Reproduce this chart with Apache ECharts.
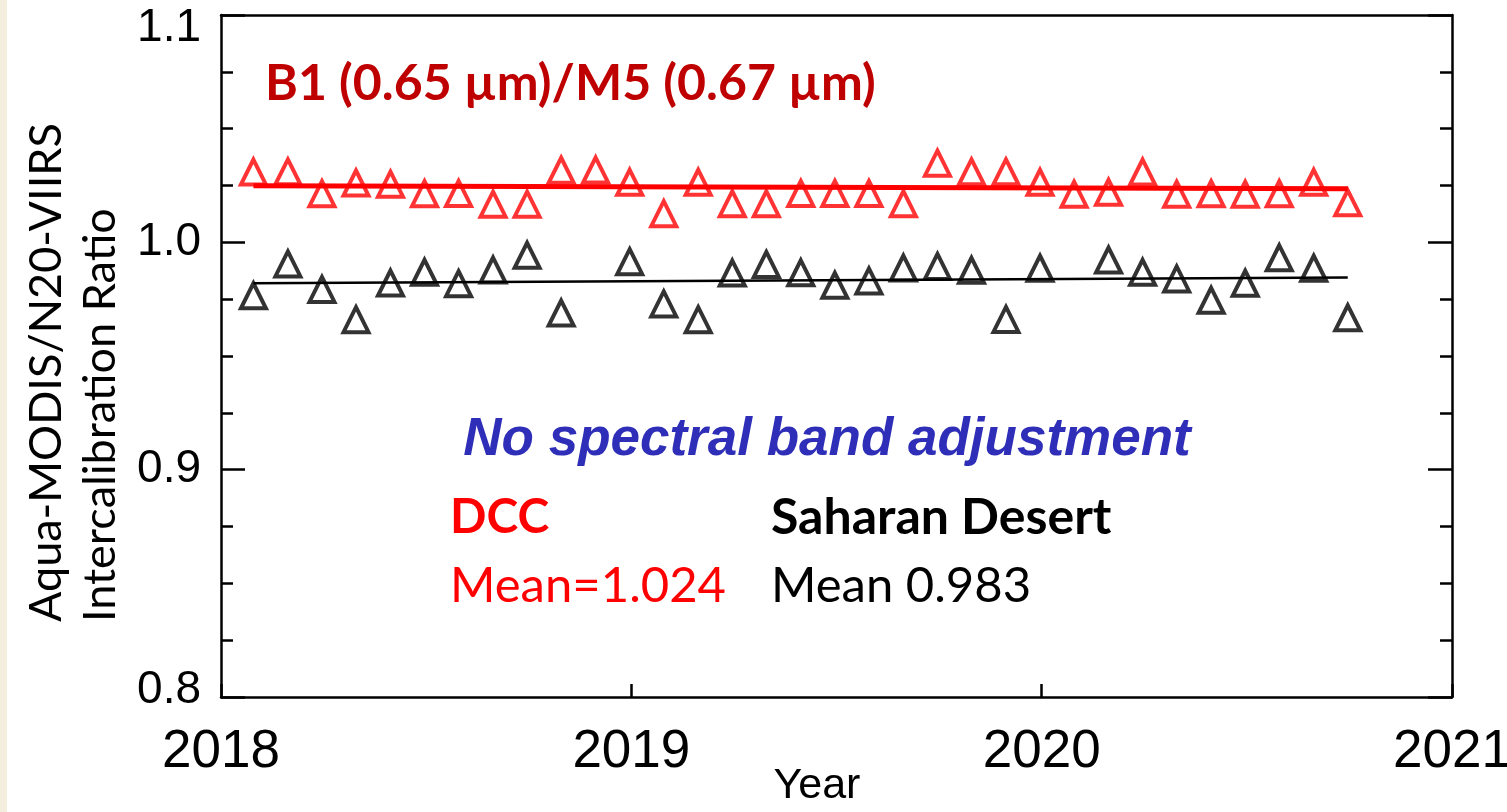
<!DOCTYPE html>
<html>
<head>
<meta charset="utf-8">
<script src="https://cdn.jsdelivr.net/npm/echarts@6/dist/echarts.min.js"></script>
<style>
html,body{margin:0;padding:0;background:#fff;overflow:hidden;}
#chart{width:1507px;height:812px;}
</style>
</head>
<body>
<div id="chart"></div>
<script>
// Decimal-year positions of the monthly samples
const xYears = [2018.079, 2018.163, 2018.246, 2018.329, 2018.413, 2018.496, 2018.579, 2018.663, 2018.746, 2018.829, 2018.913, 2018.996,
                2019.079, 2019.163, 2019.246, 2019.329, 2019.413, 2019.496, 2019.579, 2019.663, 2019.746, 2019.829, 2019.913, 2019.996,
                2020.079, 2020.163, 2020.246, 2020.329, 2020.413, 2020.496, 2020.579, 2020.663, 2020.746];
// DCC ratios (red)
const dccRatio = [1.0309, 1.0310, 1.0214, 1.0261, 1.0256, 1.0214, 1.0215, 1.0168, 1.0168, 1.0317, 1.0318, 1.0264,
                  1.0126, 1.0264, 1.0170, 1.0170, 1.0215, 1.0215, 1.0215, 1.0170, 1.0348, 1.0310, 1.0310, 1.0264,
                  1.0212, 1.0220, 1.0309, 1.0212, 1.0214, 1.0212, 1.0214, 1.0264, 1.0174];
// Saharan Desert ratios (black), null = no sample
const desertRatio = [0.9765, 0.9905, 0.9793, 0.9660, 0.9821, 0.9868, 0.9818, 0.9878, 0.9943, 0.9689, null, 0.9915,
                     0.9729, 0.9660, 0.9865, 0.9903, 0.9866, 0.9811, 0.9830, 0.9887, 0.9894, 0.9877, 0.9661, 0.9886,
                     null, 0.9922, 0.9868, 0.9839, 0.9745, 0.9820, 0.9932, 0.9886, 0.9668];
// Fitted trend line end points
const dccFitX = [2018.079, 2020.746];
const dccFitY = [1.0249, 1.0236];
const desertFitX = [2018.079, 2020.746];
const desertFitY = [0.9820, 0.9845];
// Axis ticks
const xTicks = [2018, 2019, 2020, 2021];
const yTicks = [0.8, 0.9, 1.0, 1.1];

const pairs = (xs, ys) => xs.map((x, i) => [x, ys[i]]).filter(p => p[1] !== null);

const chart = echarts.init(document.getElementById('chart'), null, {renderer: 'canvas'});

const axisLine = {show: true, lineStyle: {color: '#000', width: 2.5}};
const yBase = {
  type: 'value', min: yTicks[0], max: yTicks[yTicks.length - 1], interval: 0.1,
  axisLine: axisLine, splitLine: {show: false},
  axisTick: {show: true, inside: true, length: 24, lineStyle: {color: '#000', width: 2.5}},
  minorTick: {show: true, splitNumber: 4, length: 12, lineStyle: {color: '#000', width: 2.5}},
  minorSplitLine: {show: false}
};
const yLabelFont = {color: '#000', fontFamily: 'Liberation Sans, Arial, sans-serif', fontSize: 46};

chart.setOption({
  backgroundColor: '#ffffff',
  animation: false,
  grid: {left: 221, right: 55, top: 15, bottom: 115, containLabel: false, outerBoundsMode: 'none'},
  xAxis: [
    {type: 'value', min: xTicks[0], max: xTicks[xTicks.length - 1], interval: 1, position: 'bottom',
     axisLine: axisLine, splitLine: {show: false},
     axisTick: {show: true, inside: true, length: 13, lineStyle: {color: '#000', width: 2.5}},
     axisLabel: {show: true, margin: 29, color: '#000', fontFamily: 'Liberation Sans, Arial, sans-serif', fontSize: 53,
                 formatter: v => String(Math.round(v))}},
    {type: 'value', min: xTicks[0], max: xTicks[xTicks.length - 1], interval: 1, position: 'top',
     axisLine: axisLine, splitLine: {show: false}, axisTick: {show: false}, axisLabel: {show: false}}
  ],
  yAxis: [
    Object.assign({}, yBase, {position: 'left',
      axisLabel: Object.assign({show: true, margin: 20,
        formatter: v => {
          const s = v.toFixed(1);
          if (Math.abs(v - yTicks[yTicks.length - 1]) < 1e-9) return '{hi|' + s + '}';
          if (Math.abs(v - yTicks[0]) < 1e-9) return '{lo|' + s + '}';
          return s;
        },
        rich: {
          hi: Object.assign({padding: [26, 0, 0, 0]}, yLabelFont),
          lo: Object.assign({padding: [0, 0, 14, 0]}, yLabelFont)
        }}, yLabelFont)}),
    Object.assign({}, yBase, {position: 'right', axisLabel: {show: false}})
  ],
  series: [
    {type: 'line', data: pairs(dccFitX, dccFitY), showSymbol: false, symbol: 'none',
     lineStyle: {color: '#ff0000', width: 5}, z: 2, silent: true},
    {type: 'line', data: pairs(desertFitX, desertFitY), showSymbol: false, symbol: 'none',
     lineStyle: {color: '#000000', width: 2.5}, z: 2, silent: true},
    {type: 'scatter', data: pairs(xYears, dccRatio), symbol: 'triangle', symbolSize: 25,
     itemStyle: {color: 'rgba(0,0,0,0)', borderColor: '#ff0000', borderWidth: 4}, z: 3},
    {type: 'scatter', data: pairs(xYears, desertRatio), symbol: 'triangle', symbolSize: 25,
     itemStyle: {color: 'rgba(0,0,0,0)', borderColor: '#000000', borderWidth: 4}, z: 3}
  ],
  graphic: [
    {type: 'rect', left: 0, top: 0, shape: {width: 7, height: 812}, style: {fill: '#f4eedf'}, silent: true},
    {type: 'text', x: 46, y: 622, rotation: Math.PI / 2,
     style: {text: 'Aqua-MODIS/N20-VIIRS', font: '45px Lato, sans-serif', fill: '#000', textAlign: 'left', textVerticalAlign: 'middle'}},
    {type: 'text', x: 100, y: 622, rotation: Math.PI / 2,
     style: {text: 'Intercalibration Ratio', font: '45px Lato, sans-serif', fill: '#000', textAlign: 'left', textVerticalAlign: 'middle'}},
    {type: 'text', x: 817, y: 786,
     style: {text: 'Year', font: '43px "Liberation Sans", Arial, sans-serif', fill: '#000', textAlign: 'center', textVerticalAlign: 'middle'}},
    {type: 'text', x: 265, y: 84,
     style: {text: 'B1 (0.65 µm)/M5 (0.67 µm)', font: 'bold 50px Lato, sans-serif', fill: '#bf0000', textAlign: 'left', textVerticalAlign: 'middle'}},
    {type: 'text', x: 827, y: 440,
     style: {text: 'No spectral band adjustment', font: 'italic bold 53px "Liberation Sans", Arial, sans-serif', fill: '#2e2eb8', textAlign: 'center', textVerticalAlign: 'middle'}},
    {type: 'text', x: 450, y: 518,
     style: {text: 'DCC', font: 'bold 48px Lato, sans-serif', fill: '#ff0000', textAlign: 'left', textVerticalAlign: 'middle'}},
    {type: 'text', x: 771, y: 518,
     style: {text: 'Saharan Desert', font: 'bold 50px Lato, sans-serif', fill: '#000', textAlign: 'left', textVerticalAlign: 'middle'}},
    {type: 'text', x: 450, y: 586,
     style: {text: 'Mean=1.024', font: '49px Lato, sans-serif', fill: '#ff0000', textAlign: 'left', textVerticalAlign: 'middle'}},
    {type: 'text', x: 771, y: 586,
     style: {text: 'Mean 0.983', font: '49px Lato, sans-serif', fill: '#000', textAlign: 'left', textVerticalAlign: 'middle'}}
  ]
});
</script>
</body>
</html>
